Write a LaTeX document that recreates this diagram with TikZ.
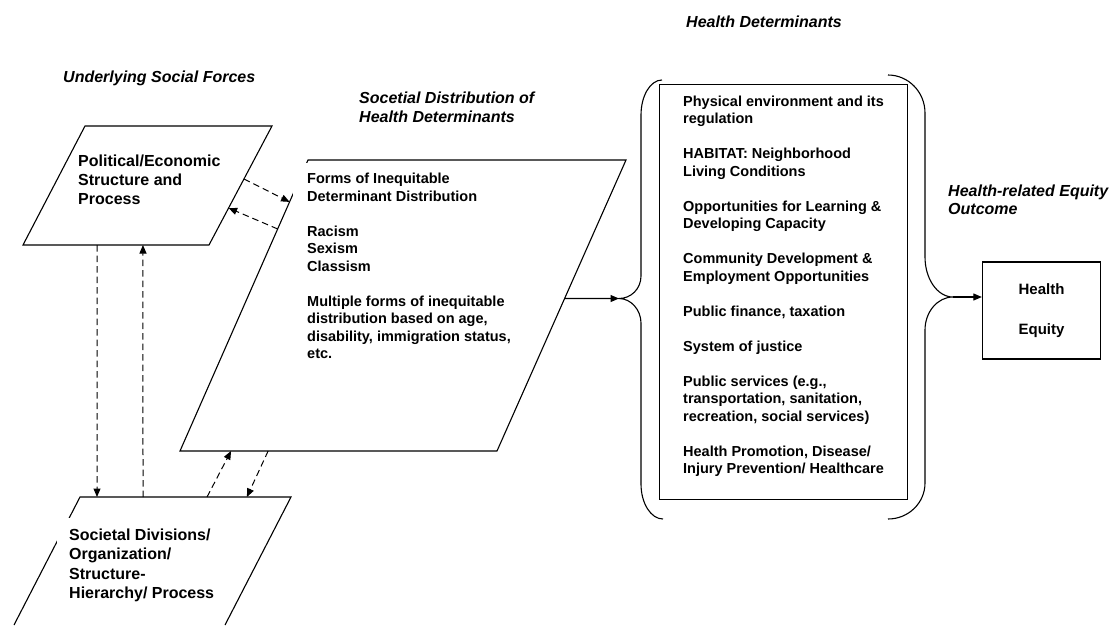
\documentclass[tikz,border=0pt]{standalone}
\usepackage{fontspec}
\setmainfont{Liberation Sans}
\usetikzlibrary{arrows.meta,calc}
\begin{document}
\begin{tikzpicture}[x=1pt,y=-1pt,
  shapeline/.style={draw=black, line width=1.1pt, line join=miter},
  dasharrow/.style={draw=black, line width=1pt, dash pattern=on 6.5pt off 4pt, -{Triangle[length=8.5pt,width=7pt]}},
  solidarrow/.style={draw=black, line width=1.1pt, -{Triangle[length=8.5pt,width=7pt]}},
  bracepath/.style={draw=black, line width=1.1pt},
  bodytext/.style={font=\fontsize{14.5}{17.5}\selectfont\bfseries, align=left, inner sep=0pt, anchor=north west},
  bigtext/.style={font=\fontsize{16}{19}\selectfont\bfseries, align=left, inner sep=0pt, anchor=north west},
  headtext/.style={font=\fontsize{16}{19}\selectfont\bfseries\itshape, align=left, inner sep=0pt},
  boxline/.style={draw=black, line width=1.3pt, inner sep=0pt},
]
\useasboundingbox (0,0) rectangle (1112,625);

% parallelogram corners
\coordinate (a1) at (85,126);  \coordinate (b1) at (272,126);
\coordinate (c1) at (209,245); \coordinate (d1) at (23,245);
\coordinate (a2) at (308,160); \coordinate (b2) at (626,160);
\coordinate (c2) at (497,451); \coordinate (d2) at (180,451);
\coordinate (a3) at (80,497);  \coordinate (b3) at (291,497);
\coordinate (c3) at (225,625); \coordinate (d3) at (14,625);

\draw[shapeline] (a1) -- (b1) -- (c1) -- (d1) -- cycle;
\draw[shapeline] (a2) -- (b2) -- (c2) -- (d2) -- cycle;
\draw[shapeline] (d3) -- (a3) -- (b3) -- (c3);

% headings
\node[headtext, anchor=base west] (hforces) at (63,82) {Underlying Social Forces};
\node[headtext, anchor=north west] (hdist) at (359,91.8) {Socetial Distribution of\\Health Determinants};
\node[headtext, anchor=base west] (hdet) at (686,27.5) {Health Determinants};
\node[headtext, anchor=north west, font=\fontsize{16}{18.5}\selectfont\bfseries\itshape] (hout) at (948,184.3) {Health-related Equity\\Outcome};

% texts in parallelograms
\node[bigtext] (pol) at (78,154.8) {Political/Economic\\Structure and\\Process};
\node[bodytext, fill=white, inner xsep=14pt, inner ysep=10pt] (dist) at (293,162.9)
  {Forms of Inequitable\\Determinant Distribution\\[17.5pt]Racism\\Sexism\\Classism\\[17.5pt]Multiple forms of inequitable\\distribution based on age,\\disability, immigration status,\\etc.};
\node[bigtext, fill=white, inner xsep=12pt, inner ysep=11pt, font=\fontsize{16}{19.3}\selectfont\bfseries] (divs) at (57,517.8)
  {Societal Divisions/\\Organization/\\Structure-\\Hierarchy/ Process};

% determinants box
\node[boxline, minimum width=248pt, minimum height=415pt, anchor=north west] (detbox) at (659,84) {};
\node[bodytext] (dets) at (683,95.4)
  {Physical environment and its\\regulation\\[17.5pt]HABITAT: Neighborhood\\Living Conditions\\[17.5pt]Opportunities for Learning \&\\Developing Capacity\\[17.5pt]Community Development \&\\Employment Opportunities\\[17.5pt]Public finance, taxation\\[17.5pt]System of justice\\[17.5pt]Public services (e.g.,\\transportation, sanitation,\\recreation, social services)\\[17.5pt]Health Promotion, Disease/\\Injury Prevention/ Healthcare};

% outcome box
\node[boxline, minimum width=118pt, minimum height=97pt, font=\fontsize{15}{18}\selectfont\bfseries, align=center] (eq) at (1041.5,310.5) {Health\\[22pt]Equity};

% braces
\coordinate (lbt) at (619,298.5);
\draw[bracepath] (662,80) .. controls (650.4,80) and (641,95.7) .. (641,115) -- (641,276)
  .. controls (641,288.7) and (631.1,298.5) .. (lbt)
  .. controls (631.1,298.5) and (641,310) .. (641,323) -- (641,484)
  .. controls (641,503.3) and (650.9,519) .. (663,519);
\coordinate (rbt) at (953,297);
\draw[bracepath] (888,75) .. controls (908.4,75) and (925,92) .. (925,113) -- (925,257)
  .. controls (925,279) and (937.5,297) .. (rbt)
  .. controls (937.5,297) and (925,312) .. (925,330) -- (925,483)
  .. controls (925,503) and (908.4,519) .. (888,519);

% connector end points on the shapes' edges
\coordinate (pA1) at ($(b1)!0.445!(c1)$);
\coordinate (pA2) at ($(a2)!0.144!(d2)$);
\coordinate (pB1) at ($(a2)!0.237!(d2)$);
\coordinate (pB2) at ($(b1)!0.689!(c1)$);
\coordinate (v1s) at ($(d1)!0.398!(c1)$);
\coordinate (v1e) at ($(a3)!0.0806!(b3)$);
\coordinate (v2s) at ($(a3)!0.2986!(b3)$);
\coordinate (v2e) at ($(d1)!0.645!(c1)$);
\coordinate (pC1) at ($(a3)!0.602!(b3)$);
\coordinate (pC2) at ($(d2)!0.161!(c2)$);
\coordinate (pD1) at ($(d2)!0.278!(c2)$);
\coordinate (pD2) at ($(a3)!0.791!(b3)$);
\coordinate (pE) at ($(b2)!0.476!(c2)$);

\draw[dasharrow] (pA1) -- (pA2);
\draw[dasharrow] (pB1) -- (pB2);
\draw[dasharrow] (v1s) -- (v1e);
\draw[dasharrow] (v2s) -- (v2e);
\draw[dasharrow] (pC1) -- (pC2);
\draw[dasharrow] (pD1) -- (pD2);
\draw[solidarrow] (pE) -- (lbt);
\draw[solidarrow] (rbt) -- (rbt -| eq.west);
\end{tikzpicture}
\end{document}
